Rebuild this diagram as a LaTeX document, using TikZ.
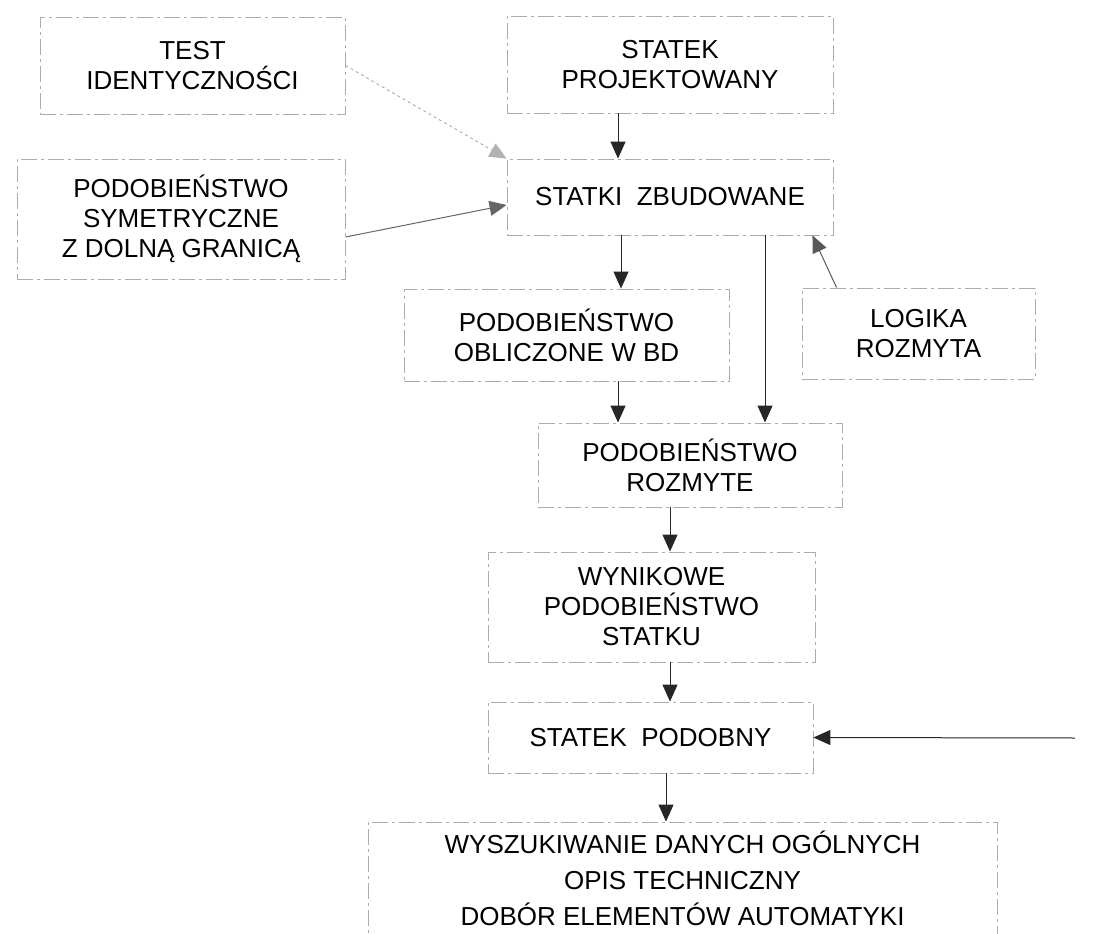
\documentclass[tikz,border=0pt]{standalone}
\usepackage{fontspec}
\setmainfont{Liberation Sans}
\usepackage{tikz}
\usetikzlibrary{positioning, arrows.meta}

\begin{document}
\begin{tikzpicture}[x=1pt, y=-1pt,
    blok/.style={rectangle, draw=gray!65, line width=0.9pt,
        dash pattern=on 16pt off 4pt on 3pt off 4pt,
        align=center, font=\fontsize{26}{30}\selectfont},
    arr/.style={-{Triangle[length=17pt, width=15pt]}, line width=1pt, black!85}]
    \path[use as bounding box, clip] (0,0) rectangle (1096,934);

    % Input boxes
    \node[blok, minimum width=305pt, minimum height=97pt] (test) at (192.5,65.5) {TEST\\IDENTYCZNOŚCI};
    \node[blok, minimum width=326pt, minimum height=97pt] (proj) at (670,64.5) {STATEK\\PROJEKTOWANY};
    \node[blok, minimum width=328pt, minimum height=120pt] (sym) at (181,219) {PODOBIEŃSTWO\\SYMETRYCZNE\\Z DOLNĄ GRANICĄ};

    % Database of built ships
    \node[blok, minimum width=326pt, minimum height=76pt] (zbud) at (670,197) {STATKI\ \ ZBUDOWANE};

    % Similarity stages
    \node[blok, minimum width=325pt, minimum height=92pt] (bd) at (566.5,335) {PODOBIEŃSTWO\\OBLICZONE W BD};
    \node[blok, minimum width=233pt, minimum height=91pt] (logika) at (918.5,333.5) {LOGIKA\\ROZMYTA};
    \node[blok, minimum width=304pt, minimum height=84pt] (rozm) at (690,465) {PODOBIEŃSTWO\\ROZMYTE};
    \node[blok, minimum width=327pt, minimum height=110pt] (wynik) at (651.5,607) {WYNIKOWE\\PODOBIEŃSTWO\\STATKU};

    % Output
    \node[blok, minimum width=325pt, minimum height=71pt] (podobny) at (650.5,737.5) {STATEK\ \ PODOBNY};
    \node[blok, minimum width=629pt, minimum height=112pt] (dane) at (682.5,878) {WYSZUKIWANIE DANYCH OGÓLNYCH\\[6pt]OPIS TECHNICZNY\\[6pt]DOBÓR ELEMENTÓW AUTOMATYKI};
    \coordinate (wej) at (1075,738);

    % Arrows
    \draw[arr, gray!60, dashed] (test.east) -- (zbud.north west);
    \draw[arr] ([xshift=-52pt]proj.south) -- ([xshift=-52pt]zbud.north);
    \draw[arr, gray!80!black] ([yshift=-18pt]sym.east) -- ([yshift=-8pt]zbud.west);
    \draw[arr] ([xshift=-49pt]zbud.south) -- ([xshift=54.5pt]bd.north);
    \draw[arr] ([xshift=95pt]zbud.south) -- ([xshift=75pt]rozm.north);
    \draw[arr, gray!70!black] ([xshift=35pt]logika.north west) -- ([xshift=-21pt]zbud.south east);
    \draw[arr] ([xshift=51.5pt]bd.south) -- ([xshift=-72pt]rozm.north);
    \draw[arr] ([xshift=-20pt]rozm.south) -- ([xshift=18.5pt]wynik.north);
    \draw[arr] ([xshift=18.5pt]wynik.south) -- ([xshift=19.5pt]podobny.north);
    \draw[arr] (wej) -- (podobny.east);
    \draw[arr] ([xshift=15.5pt]podobny.south) -- ([xshift=-16.5pt]dane.north);
\end{tikzpicture}
\end{document}
